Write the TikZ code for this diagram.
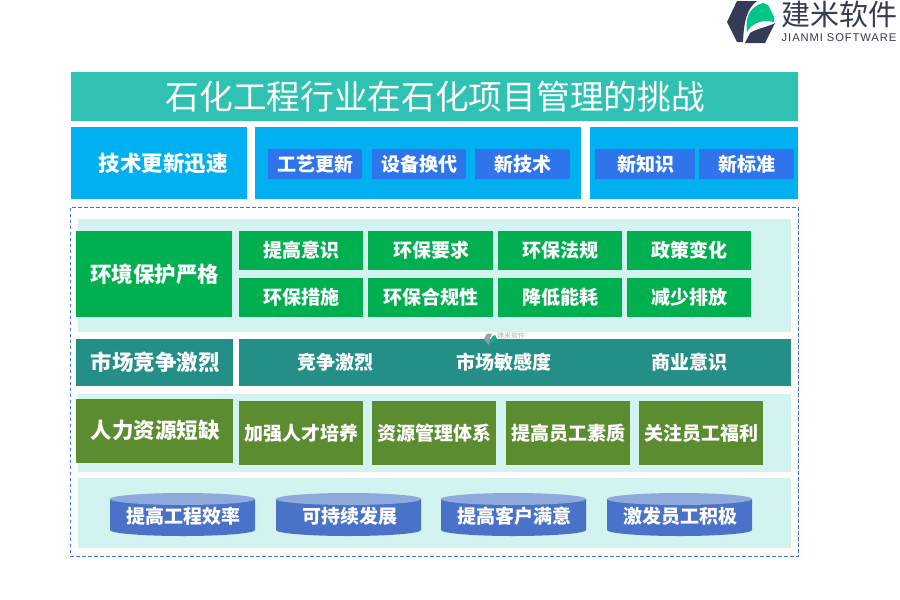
\documentclass[tikz,border=0pt]{standalone}
\usepackage{fontspec}
\setmainfont{Noto Sans CJK SC}
\newfontfamily\latinf[LetterSpace=8]{Liberation Sans}
\definecolor{ctitle}{HTML}{2FC2B2}
\definecolor{cblue}{HTML}{00B0F0}
\definecolor{csub}{HTML}{2E75EC}
\definecolor{cdash}{HTML}{4472DC}
\definecolor{cpanel}{HTML}{D2F3F0}
\definecolor{cgreen}{HTML}{00B050}
\definecolor{cteal}{HTML}{238F87}
\definecolor{colive}{HTML}{5B8C2F}
\definecolor{ccyl}{HTML}{4A72C8}
\definecolor{ccyltop}{HTML}{8EA9DB}
\definecolor{cdark}{HTML}{333B57}
\definecolor{clogo}{HTML}{00C785}
\tikzset{
  x=1pt,y=-1pt,
  box/.style={draw=none,inner sep=0pt,outer sep=0pt,text=white,align=center},
  lab/.style={text=white,inner sep=0pt,font=\fontsize{19}{19}\selectfont\bfseries},
  big/.style={font=\fontsize{21.5}{22}\selectfont\bfseries},
  small/.style={font=\fontsize{19}{19}\selectfont\bfseries},
  heading/.style={font=\fontsize{33.7}{34}\selectfont},
  panel/.style={fill=cpanel},
  blueb/.style={fill=cblue},
  subb/.style={fill=csub},
  greenb/.style={fill=cgreen},
  tealb/.style={fill=cteal},
  oliveb/.style={fill=colive},
}
% name, x1, y1, x2, y2, style, text
\newcommand{\bx}[7]{\path[box,#6] (#2,#3) rectangle (#4,#5);
  \node[box,#6,fill=none] (#1) at ({(#2+#4)/2+0.7},{(#3+#5)/2}) {#7};}
\newcommand{\cyl}[4]{%
  \fill[ccyl] (#2,499) -- (#3,499) -- (#3,530) arc[start angle=0,end angle=180,x radius={(#3-#2)/2},y radius=6] -- cycle;
  \fill[ccyltop] ({(#2+#3)/2},499) ellipse[x radius={(#3-#2)/2},y radius=6];
  \node[lab] (#1) at ({(#2+#3)/2+1},516.5) {#4};}
\begin{document}
\begin{tikzpicture}
\useasboundingbox (0,0) rectangle (900,600);
\fill[white] (0,0) rectangle (900,600);
% logo
\fill[cdark] (737,1) -- (757,1) .. controls (748,8) and (744,18) .. (743,42) -- (737,42) -- (727,22) -- cycle;
\fill[cdark] (745,43) -- (750,33) .. controls (758,28) and (768,27) .. (775,23) -- (765,43) -- cycle;
\fill[clogo] (747,32) .. controls (745,18) and (749,7) .. (763,3) -- (768,5) -- (774,17) -- (774,22) .. controls (762,19) and (752,23) .. (747,32) -- cycle;
\node[inner sep=0pt,text=cdark,font=\fontsize{29}{29}\selectfont] (logotext) at (839.5,14) {建米软件};
\node[inner sep=0pt,text=cdark,font=\latinf\fontsize{11.2}{12}\selectfont] (logosub) at (839,38) {JIANMI SOFTWARE};
% title
\bx{title}{71}{72}{798}{121}{fill=ctitle,heading}{石化工程行业在石化项目管理的挑战}
% tech row
\fill[cblue] (71,127) rectangle (247,199);
\node[box,big] (tech) at (163,163) {技术更新迅速};
\fill[cblue] (255,127) rectangle (581,199);
\fill[cblue] (590,127) rectangle (798,199);
\bx{t1}{268}{149}{362}{179}{subb,small}{工艺更新}
\bx{t2}{372}{149}{466}{179}{subb,small}{设备换代}
\bx{t3}{475}{149}{570}{179}{subb,small}{新技术}
\bx{t4}{595}{149}{695}{179}{subb,small}{新知识}
\bx{t5}{699}{149}{794}{179}{subb,small}{新标准}
% dashed frame
\draw[cdash,line width=0.9pt,dash pattern=on 3.5pt off 2.5pt] (70.5,207.5) rectangle (798.5,556);
% panels
\fill[cpanel] (78,219) rectangle (791,332);
\fill[cpanel] (78,394) rectangle (791,472);
\fill[cpanel] (78,478) rectangle (791,548);
% environment
\bx{env}{76}{231}{232}{317}{greenb,big}{环境保护严格}
\bx{e1}{239}{231}{363}{270}{greenb,small}{提高意识}
\bx{e2}{368}{231}{493}{270}{greenb,small}{环保要求}
\bx{e3}{498}{231}{622}{270}{greenb,small}{环保法规}
\bx{e4}{627}{231}{751}{270}{greenb,small}{政策变化}
\bx{e5}{239}{278}{363}{317}{greenb,small}{环保措施}
\bx{e6}{368}{278}{493}{317}{greenb,small}{环保合规性}
\bx{e7}{498}{278}{622}{317}{greenb,small}{降低能耗}
\bx{e8}{627}{278}{751}{317}{greenb,small}{减少排放}
% market
\bx{mkt}{76}{339}{233}{386}{tealb,big}{市场竞争激烈}
\fill[cteal] (239,339) rectangle (791,386);
\node[lab] (m1) at (335,362.5) {竞争激烈};
\node[lab] (m2) at (503.5,362.5) {市场敏感度};
\node[lab] (m3) at (689,362.5) {商业意识};
% watermark
\fill[cdark!50!white] (487,333.5) -- (492,333.5) -- (490,338) -- (489,345) -- (484,339) -- cycle;
\fill[clogo!60!cteal] (490,344) .. controls (490,339) and (492,336) .. (495,335) -- (497,339) .. controls (494,340) and (492,342) .. (490,344) -- cycle;
\node[inner sep=0pt,text=cdark!40!white,font=\fontsize{7}{7}\selectfont] (wm) at (511,336) {建米软件};
% people
\path[box,oliveb] (76,399) rectangle (233,463);
\node[box,big] (hr) at (155,430.5) {人力资源短缺};
\bx{h1}{239}{401}{363}{465}{oliveb,small}{加强人才培养}
\bx{h2}{372}{401}{496}{465}{oliveb,small}{资源管理体系}
\bx{h3}{506}{401}{630}{465}{oliveb,small}{提高员工素质}
\bx{h4}{639}{401}{763}{465}{oliveb,small}{关注员工福利}
% cylinders
\cyl{c1}{110}{255}{提高工程效率}
\cyl{c2}{276}{421}{可持续发展}
\cyl{c3}{441}{586}{提高客户满意}
\cyl{c4}{607}{752}{激发员工积极}
\end{tikzpicture}
\end{document}
